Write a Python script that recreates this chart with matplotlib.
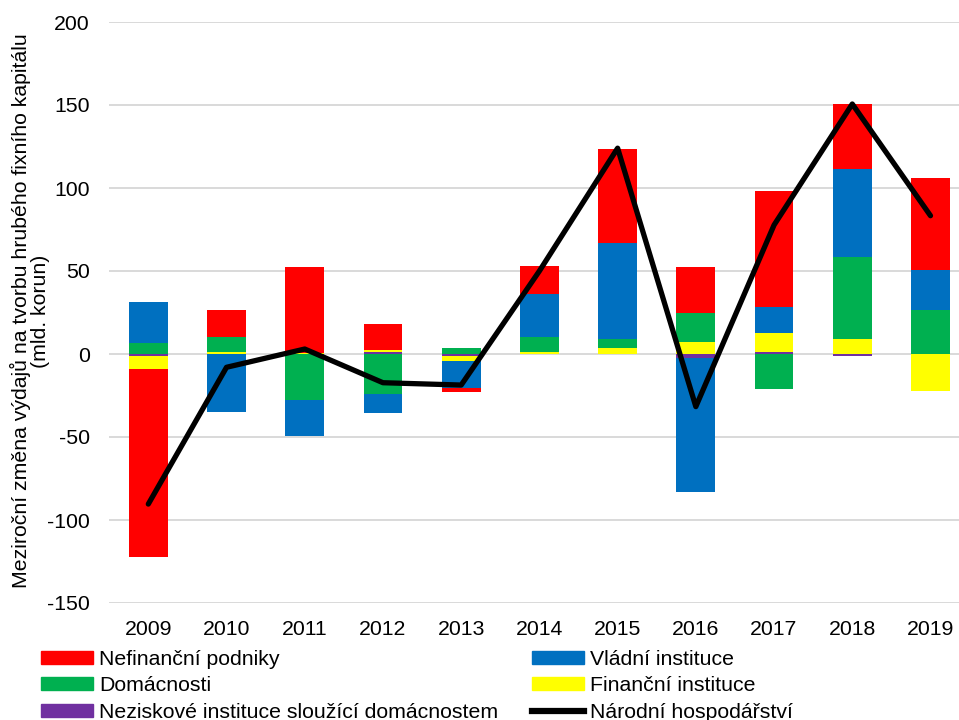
import matplotlib.pyplot as plt
from matplotlib.patches import Patch
from matplotlib.lines import Line2D
import numpy as np

plt.rcParams['font.family'] = ['Liberation Sans', 'DejaVu Sans']
plt.rcParams['axes.unicode_minus'] = False

years = ['2009', '2010', '2011', '2012', '2013', '2014', '2015', '2016', '2017', '2018', '2019']

# mld. korun
neziskove = [-1.0, 0.0, 0.0, 1.3, -1.0, 0.0, 0.0, -2.2, 1.0, -1.0, 0.0]
financni = [-8.0, 1.0, 0.7, 1.0, -3.0, 1.5, 3.4, 7.0, 11.8, 9.2, -22.3]
domacnosti = [6.6, 9.4, -28.0, -24.0, 3.8, 9.0, 5.6, 18.0, -21.0, 49.0, 26.5]
vladni = [25.0, -34.7, -21.5, -11.7, -16.3, 25.6, 58.0, -81.0, 15.7, 53.2, 24.1]
nefinancni = [-113.0, 16.0, 52.0, 15.7, -2.4, 17.2, 56.5, 27.2, 69.7, 39.2, 55.2]
narodni = [-90.4, -8.0, 3.0, -17.3, -18.7, 50.0, 124.0, -31.7, 77.7, 150.6, 83.3]

# stacking order as in the source (bottom to top)
series = [
    ('Neziskové instituce sloužící domácnostem', neziskove, '#7030a0'),
    ('Finanční instituce', financni, '#ffff00'),
    ('Domácnosti', domacnosti, '#00b050'),
    ('Vládní instituce', vladni, '#0070c0'),
    ('Nefinanční podniky', nefinancni, '#ff0000'),
]

fs = 15.3

fig = plt.figure(figsize=(9.59, 7.2), dpi=100)
ax = fig.add_axes([109.2 / 959, 1 - 603 / 720, (969.6 - 109.2) / 959, (603 - 22) / 720])

x = np.arange(len(years))
pos = np.zeros(len(years))
neg = np.zeros(len(years))
for name, vals, col in series:
    v = np.array(vals)
    bottom = np.where(v >= 0, pos, neg)
    ax.bar(x, v, 0.495, bottom=bottom, color=col, zorder=2)
    pos = pos + np.where(v >= 0, v, 0)
    neg = neg + np.where(v < 0, v, 0)

ax.plot(x, narodni, color='black', lw=3.8, zorder=3, solid_joinstyle='round', solid_capstyle='round')

ax.set_xlim(-0.5, len(years) - 0.5)
ax.set_ylim(-150, 200)
ax.set_yticks(range(-150, 201, 50))
ax.set_xticks(x)
ax.set_xticklabels(years)
ax.tick_params(length=0, labelsize=fs)
ax.tick_params(axis='y', pad=14)
ax.tick_params(axis='x', pad=12)
ax.yaxis.grid(True, color='#d9d9d9', lw=1.4, zorder=0)
ax.set_axisbelow(True)
for s in ax.spines.values():
    s.set_visible(False)

fig.text(30 / 959, 1 - 311 / 720,
         'Meziroční změna výdajů na tvorbu hrubého fixního kapitálu\n(mld. korun)',
         rotation=90, ha='center', va='center', fontsize=fs, linespacing=0.95)

handles = {name: Patch(color=col) for name, vals, col in series}
handles['Národní hospodářství'] = Line2D([], [], color='black', lw=4.5)
order = ['Nefinanční podniky', 'Domácnosti', 'Neziskové instituce sloužící domácnostem',
         'Vládní instituce', 'Finanční instituce', 'Národní hospodářství']
fig.legend([handles[n] for n in order], order, ncol=2, loc='upper left',
           bbox_to_anchor=(41 / 959, 1 - 650 / 720), frameon=False, fontsize=fs,
           handlelength=2.45, handleheight=0.56, handletextpad=0.28,
           labelspacing=0.35, columnspacing=1.58, borderpad=0, borderaxespad=0)

fig.savefig('out.png', dpi=100)
